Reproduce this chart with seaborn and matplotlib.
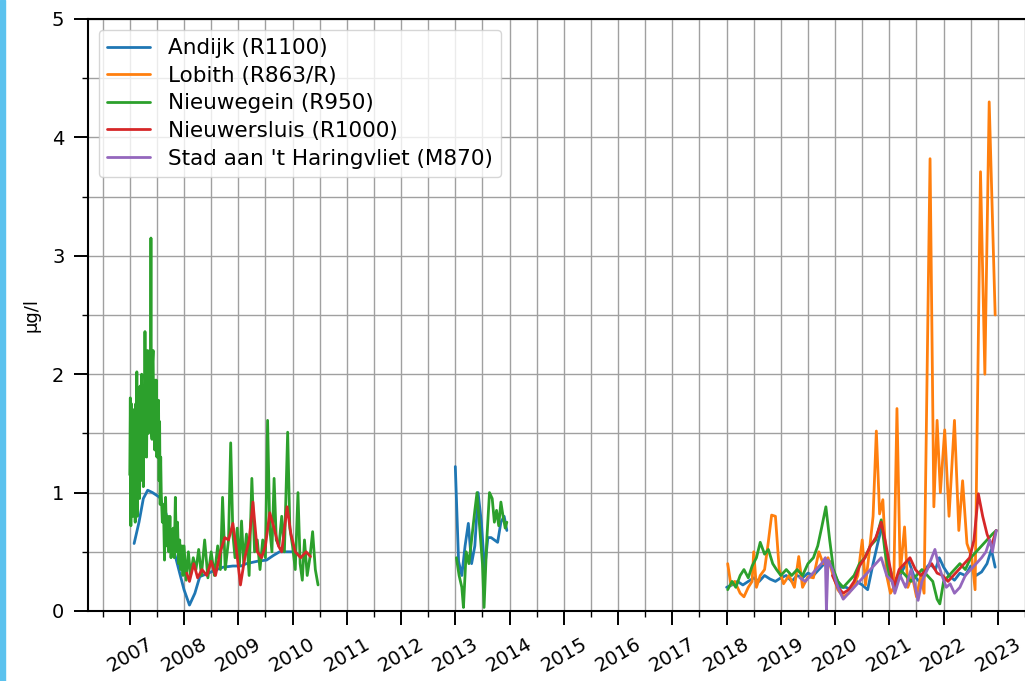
import numpy as np
import pandas as pd
import matplotlib
matplotlib.use("Agg")
import matplotlib.pyplot as plt
from matplotlib.ticker import MultipleLocator
import seaborn as sns

# stations and colours (default matplotlib cycle)
stations = ["Andijk (R1100)", "Lobith (R863/R)", "Nieuwegein (R950)",
            "Nieuwersluis (R1000)", "Stad aan 't Haringvliet (M870)"]
colors = ["#1f77b4", "#ff7f0e", "#2ca02c", "#d62728", "#9467bd"]

andijk_years = [2007.08, 2007.17, 2007.25, 2007.33, 2007.42, 2007.55, 2007.67, 2007.75, 2007.83,
                2007.92, 2008.0, 2008.1, 2008.2, 2008.29, 2008.45, 2008.6, 2008.72, 2008.9, 2009.05,
                2009.15, 2009.35, 2009.52, 2009.65, 2009.76, 2009.9, 2010.0, 2010.1,
                2013.0, 2013.06, 2013.12, 2013.18, 2013.24, 2013.3, 2013.36, 2013.42, 2013.48,
                2013.54, 2013.6, 2013.66, 2013.72, 2013.78, 2013.84, 2013.9, 2013.95,
                2018.0, 2018.1, 2018.2, 2018.3, 2018.4, 2018.5, 2018.6, 2018.7, 2018.8, 2018.9,
                2019.0, 2019.1, 2019.2, 2019.3, 2019.4, 2019.5, 2019.6, 2019.7, 2019.8, 2019.9,
                2020.0, 2020.1, 2020.2, 2020.3, 2020.4, 2020.5, 2020.6, 2020.7, 2020.8, 2020.88,
                2020.95, 2021.05, 2021.15, 2021.25, 2021.35, 2021.45, 2021.55, 2021.65, 2021.75,
                2021.85, 2021.92, 2022.0, 2022.1, 2022.2, 2022.3, 2022.4, 2022.5, 2022.6, 2022.7,
                2022.8, 2022.88, 2022.95]
andijk_vals = [0.57, 0.75, 0.95, 1.02, 1.0, 0.96, 0.82, 0.65, 0.48,
               0.32, 0.18, 0.05, 0.15, 0.29, 0.32, 0.35, 0.37, 0.38, 0.38,
               0.4, 0.42, 0.43, 0.47, 0.5, 0.5, 0.5, 0.48,
               1.22, 0.42, 0.3, 0.55, 0.74, 0.4, 0.55, 1.0, 0.75,
               0.35, 0.62, 0.62, 0.6, 0.58, 0.75, 0.8, 0.68,
               0.2, 0.22, 0.25, 0.22, 0.25, 0.28, 0.25, 0.3, 0.27, 0.25,
               0.28, 0.3, 0.25, 0.3, 0.28, 0.32, 0.3, 0.35, 0.4, 0.42,
               0.3, 0.2, 0.2, 0.18, 0.25, 0.22, 0.18, 0.4, 0.6, 0.74,
               0.45, 0.3, 0.25, 0.35, 0.43, 0.3, 0.25, 0.35, 0.4,
               0.35, 0.45, 0.37, 0.3, 0.26, 0.32, 0.3, 0.38, 0.3, 0.33,
               0.4, 0.52, 0.37]

lobith_years = [2018.02, 2018.08, 2018.15, 2018.25, 2018.32, 2018.4, 2018.47, 2018.5, 2018.55,
                2018.62, 2018.7, 2018.76, 2018.83, 2018.9, 2018.97, 2019.05, 2019.15, 2019.25,
                2019.33, 2019.4, 2019.5, 2019.6, 2019.7, 2019.78, 2019.87, 2019.95, 2020.05,
                2020.15, 2020.25, 2020.33, 2020.42, 2020.5, 2020.56, 2020.63, 2020.7, 2020.76,
                2020.82, 2020.88, 2020.95, 2021.02, 2021.08, 2021.14, 2021.2, 2021.28, 2021.34,
                2021.42, 2021.5, 2021.58, 2021.64, 2021.75, 2021.82, 2021.88, 2021.94, 2022.02,
                2022.1, 2022.2, 2022.28, 2022.35, 2022.43, 2022.52, 2022.58, 2022.68, 2022.76,
                2022.84, 2022.95]
lobith_vals = [0.4, 0.22, 0.25, 0.15, 0.12, 0.2, 0.25, 0.5, 0.2,
               0.3, 0.35, 0.55, 0.81, 0.8, 0.35, 0.23, 0.3, 0.2,
               0.46, 0.2, 0.29, 0.28, 0.5, 0.4, 0.45, 0.32, 0.18,
               0.12, 0.15, 0.2, 0.3, 0.6, 0.22, 0.5, 0.8, 1.52,
               0.82, 0.94, 0.3, 0.15, 0.2, 1.71, 0.32, 0.71, 0.2,
               0.3, 0.12, 0.3, 0.15, 3.82, 0.88, 1.61, 1.0, 1.53,
               0.8, 1.61, 0.68, 1.1, 0.57, 0.45, 0.18, 3.71, 2.0,
               4.3, 2.5]

nieuwegein_years = [2007.0, 2007.01, 2007.02, 2007.03, 2007.04, 2007.05, 2007.06, 2007.07, 2007.08,
                    2007.09, 2007.1, 2007.11, 2007.12, 2007.13, 2007.14, 2007.15, 2007.16, 2007.17,
                    2007.18, 2007.19, 2007.2, 2007.21, 2007.22, 2007.23, 2007.24, 2007.25, 2007.26,
                    2007.27, 2007.28, 2007.29, 2007.3, 2007.31, 2007.32, 2007.33, 2007.34, 2007.35,
                    2007.36, 2007.37, 2007.38, 2007.39, 2007.4, 2007.41, 2007.42, 2007.43, 2007.44,
                    2007.45, 2007.46, 2007.47, 2007.48, 2007.49, 2007.5, 2007.51, 2007.52, 2007.53,
                    2007.54, 2007.55, 2007.56, 2007.57, 2007.58, 2007.6, 2007.62, 2007.64,
                    2007.66, 2007.68, 2007.7, 2007.72, 2007.74, 2007.76, 2007.78, 2007.8, 2007.82,
                    2007.84, 2007.86, 2007.88, 2007.9, 2007.92, 2007.94, 2007.96, 2007.98,
                    2008.0, 2008.04, 2008.08, 2008.12, 2008.17, 2008.22, 2008.27, 2008.32, 2008.38,
                    2008.44, 2008.5, 2008.56, 2008.62, 2008.67, 2008.71, 2008.76, 2008.82, 2008.86,
                    2008.9, 2008.94, 2008.98, 2009.02, 2009.06, 2009.1, 2009.15, 2009.2, 2009.25,
                    2009.3, 2009.35, 2009.4, 2009.45, 2009.5, 2009.54, 2009.58, 2009.62, 2009.66,
                    2009.7, 2009.75, 2009.8, 2009.85, 2009.91, 2009.95, 2010.0, 2010.05, 2010.1,
                    2010.14, 2010.18, 2010.22, 2010.27, 2010.32, 2010.37, 2010.42, 2010.47,
                    2013.02, 2013.07, 2013.12, 2013.15, 2013.2, 2013.25, 2013.3, 2013.36, 2013.4,
                    2013.45, 2013.5, 2013.53, 2013.58, 2013.63, 2013.68, 2013.72, 2013.76, 2013.8,
                    2013.84, 2013.88, 2013.92, 2013.95,
                    2018.02, 2018.1, 2018.17, 2018.25, 2018.32, 2018.4, 2018.47, 2018.55, 2018.62,
                    2018.7, 2018.77, 2018.85, 2018.92, 2019.0, 2019.1, 2019.2, 2019.3, 2019.4,
                    2019.5, 2019.6, 2019.68, 2019.75, 2019.83, 2019.9, 2019.97, 2020.05, 2020.15,
                    2020.25, 2020.35, 2020.45, 2020.55, 2020.65, 2020.75, 2020.85, 2020.92, 2021.0,
                    2021.1, 2021.2, 2021.3, 2021.4, 2021.5, 2021.6, 2021.7, 2021.8, 2021.88,
                    2021.93, 2022.0, 2022.1, 2022.2, 2022.3, 2022.4, 2022.5, 2022.6, 2022.7,
                    2022.8, 2022.9, 2022.97]
nieuwegein_vals = [1.15, 1.8, 0.72, 1.75, 0.95, 1.65, 0.8, 1.7, 1.1,
                   1.6, 0.75, 1.75, 1.0, 2.02, 0.8, 1.55, 1.05, 1.85,
                   0.95, 1.9, 1.1, 1.7, 2.0, 1.2, 1.8, 1.05, 1.9,
                   1.3, 2.36, 1.4, 2.1, 1.3, 1.9, 2.2, 1.5, 2.1,
                   1.55, 2.0, 1.7, 3.15, 1.5, 1.45, 2.1, 2.2, 1.6,
                   1.9, 1.36, 1.95, 1.45, 1.95, 1.3, 1.7, 1.3, 1.78,
                   1.1, 1.6, 0.9, 1.3, 1.0, 0.75, 0.9, 0.43,
                   0.96, 0.55, 0.8, 0.5, 0.8, 0.45, 0.6, 0.7, 0.45,
                   0.96, 0.5, 0.75, 0.4, 0.6, 0.35, 0.55, 0.3,
                   0.55, 0.26, 0.5, 0.3, 0.45, 0.35, 0.52, 0.3, 0.6,
                   0.28, 0.5, 0.3, 0.55, 0.35, 0.96, 0.35, 0.6, 1.42,
                   0.65, 0.45, 0.7, 0.38, 0.76, 0.4, 0.65, 0.3, 1.12,
                   0.5, 0.6, 0.35, 0.6, 0.45, 1.61, 0.7, 0.5, 1.12,
                   0.6, 0.55, 0.8, 0.5, 1.51, 0.7, 0.55, 0.35, 1.0,
                   0.4, 0.26, 0.6, 0.3, 0.45, 0.67, 0.35, 0.22,
                   0.45, 0.3, 0.2, 0.03, 0.5, 0.4, 0.6, 0.85, 1.0,
                   0.7, 0.4, 0.03, 0.6, 1.0, 0.95, 0.75, 0.85, 0.72,
                   0.92, 0.8, 0.7, 0.75,
                   0.18, 0.25, 0.2, 0.3, 0.35, 0.28, 0.38, 0.45, 0.58,
                   0.48, 0.52, 0.4, 0.35, 0.3, 0.35, 0.3, 0.35, 0.3,
                   0.4, 0.45, 0.55, 0.7, 0.88, 0.6, 0.35, 0.25, 0.2,
                   0.25, 0.3, 0.4, 0.45, 0.55, 0.6, 0.77, 0.5, 0.3,
                   0.2, 0.35, 0.3, 0.25, 0.3, 0.35, 0.3, 0.25, 0.1,
                   0.06, 0.25, 0.3, 0.35, 0.4, 0.35, 0.45, 0.5, 0.55,
                   0.6, 0.65, 0.68]

nieuwersluis_years = [2008.05, 2008.1, 2008.18, 2008.25, 2008.33, 2008.42, 2008.5, 2008.58, 2008.67,
                      2008.75, 2008.82, 2008.9, 2008.97, 2009.04, 2009.12, 2009.2, 2009.27, 2009.35,
                      2009.43, 2009.5, 2009.58, 2009.66, 2009.74, 2009.8, 2009.9, 2009.97, 2010.05,
                      2010.15, 2010.25, 2010.33,
                      2019.95, 2020.05, 2020.15, 2020.25, 2020.35, 2020.45, 2020.55, 2020.65, 2020.75,
                      2020.85, 2020.92, 2021.0, 2021.08, 2021.18, 2021.28, 2021.38, 2021.48, 2021.58,
                      2021.68, 2021.78, 2021.88, 2021.98, 2022.08, 2022.18, 2022.28, 2022.38, 2022.48,
                      2022.56, 2022.64, 2022.72, 2022.8, 2022.88, 2022.97]
nieuwersluis_vals = [0.32, 0.25, 0.4, 0.28, 0.35, 0.3, 0.42, 0.3, 0.5,
                     0.62, 0.6, 0.74, 0.5, 0.22, 0.45, 0.6, 0.92, 0.5,
                     0.45, 0.55, 0.83, 0.7, 0.55, 0.5, 0.88, 0.65, 0.5,
                     0.45, 0.5, 0.46,
                     0.3, 0.2, 0.15, 0.18, 0.25, 0.38, 0.45, 0.55, 0.62,
                     0.75, 0.6, 0.4, 0.2, 0.35, 0.4, 0.45, 0.35, 0.3,
                     0.35, 0.4, 0.32, 0.3, 0.25, 0.3, 0.35, 0.4, 0.45,
                     0.6, 0.99, 0.8, 0.65, 0.55, 0.68]

haringvliet_years = [2019.35, 2019.45, 2019.55, 2019.65, 2019.75, 2019.82, 2019.84, 2019.87, 2019.95,
                     2020.05, 2020.15, 2020.25, 2020.35, 2020.45, 2020.55, 2020.65, 2020.75, 2020.85,
                     2020.95, 2021.05, 2021.1, 2021.2, 2021.3, 2021.4, 2021.48, 2021.53, 2021.6,
                     2021.7, 2021.78, 2021.84, 2021.9, 2021.97, 2022.05, 2022.12, 2022.2, 2022.3,
                     2022.4, 2022.5, 2022.6, 2022.7, 2022.78, 2022.85, 2022.9, 2022.97]
haringvliet_vals = [0.28, 0.25, 0.3, 0.35, 0.4, 0.45, 0.0, 0.43, 0.35,
                    0.2, 0.1, 0.15, 0.2, 0.25, 0.3, 0.35, 0.4, 0.45,
                    0.3, 0.25, 0.15, 0.3, 0.2, 0.35, 0.2, 0.09, 0.25,
                    0.35, 0.45, 0.52, 0.4, 0.3, 0.2, 0.23, 0.15, 0.2,
                    0.3, 0.35, 0.4, 0.45, 0.5, 0.6, 0.5, 0.68]

tick_years = list(range(2007, 2024))
y_ticks = [0, 1, 2, 3, 4, 5]

# long table; a gap of more than a year starts a new line segment
all_years = [andijk_years, lobith_years, nieuwegein_years, nieuwersluis_years, haringvliet_years]
all_vals = [andijk_vals, lobith_vals, nieuwegein_vals, nieuwersluis_vals, haringvliet_vals]
parts = []
for name, yrs, vals in zip(stations, all_years, all_vals):
    yrs = np.array(yrs)
    seg = np.concatenate([[0], np.cumsum(np.diff(yrs) > 1.0)])
    parts.append(pd.DataFrame({"station": name, "year": yrs, "value": vals,
                               "unit": [f"{name}_{s}" for s in seg]}))
df = pd.concat(parts, ignore_index=True)

sns.set_style("white")
plt.rcParams["font.family"] = ["DejaVu Sans"]
plt.rcParams["text.color"] = "black"
plt.rcParams["axes.labelcolor"] = "black"
plt.rcParams["xtick.color"] = "black"
plt.rcParams["ytick.color"] = "black"

fig = plt.figure(figsize=(10.25, 6.81), dpi=100)
ax = fig.add_axes([88 / 1025, 70 / 681, 937 / 1025, 592 / 681])

sns.lineplot(data=df, x="year", y="value", hue="station", hue_order=stations,
             units="unit", estimator=None, palette=colors, linewidth=2.0, ax=ax)

ax.set_xlim(2006.23, 2023.5)
ax.set_ylim(0, 5)
ax.set_xticks(tick_years)
ax.set_xticklabels([str(y) for y in tick_years], rotation=30)
ax.set_yticks(y_ticks)
ax.xaxis.set_minor_locator(MultipleLocator(0.5))
ax.yaxis.set_minor_locator(MultipleLocator(0.5))
ax.grid(True, which="both", color="#a0a0a0", linewidth=1.0)
ax.set_axisbelow(True)

ax.tick_params(which="major", length=10, width=1.4, color="black", labelsize=14, pad=7)
ax.tick_params(which="minor", length=4, width=1.0, color="black")
ax.tick_params(left=True, bottom=True, which="both")

for side in ["left", "bottom", "top"]:
    ax.spines[side].set_color("black")
    ax.spines[side].set_linewidth(1.5)
ax.spines["right"].set_visible(False)

ax.set_xlabel("")
ax.set_ylabel("µg/l", fontsize=13, labelpad=8)

sns.move_legend(ax, "upper left", title=None, fontsize=15.5, labelspacing=0.35,
                frameon=True, framealpha=0.8, borderaxespad=0.5)

# light blue strip on the left edge
fig.add_artist(plt.Rectangle((0, 0), 5 / 1025, 1, transform=fig.transFigure,
                             color="#5bc2ee", zorder=0))

fig.savefig("out.png", dpi=100)
